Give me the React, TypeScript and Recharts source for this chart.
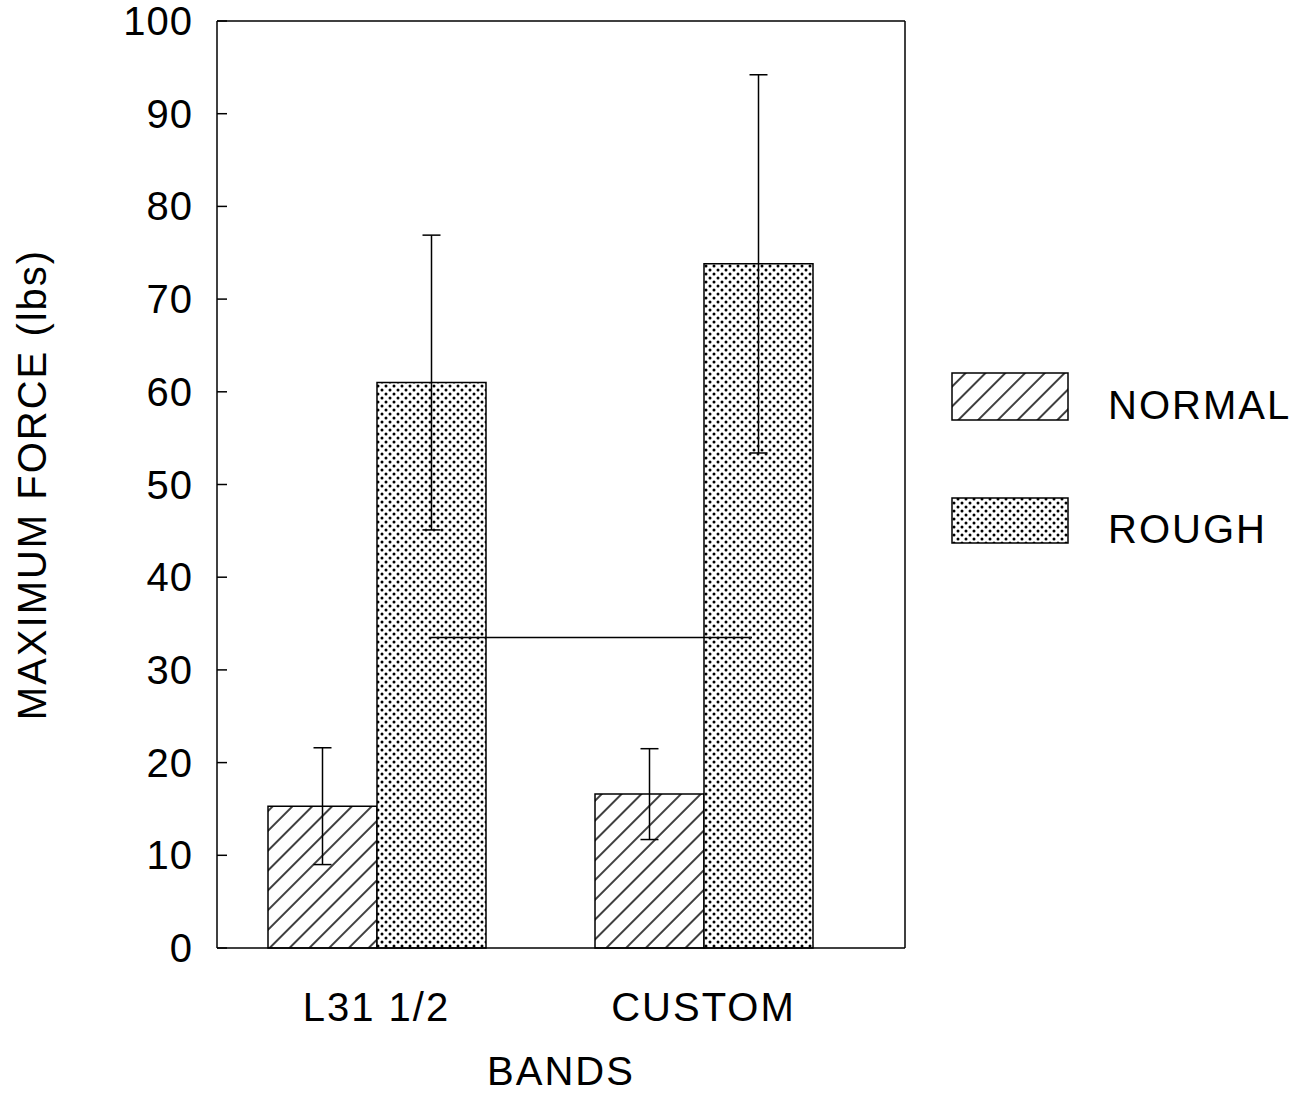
import {
  Bar,
  BarChart,
  ErrorBar,
  Legend,
  ReferenceLine,
  XAxis,
  YAxis,
} from "recharts";

const bands = ["L31 1/2", "CUSTOM"];
const normal = [15.3, 16.6];
const normalErr = [6.3, 4.9];
const rough = [61, 73.8];
const roughErr = [15.9, 20.4];
const sigLine = 33.5;
const yTicks = [0, 10, 20, 30, 40, 50, 60, 70, 80, 90, 100];

const data = bands.map((band, i) => ({
  band,
  normal: normal[i],
  normalErr: normalErr[i],
  rough: rough[i],
  roughErr: roughErr[i],
}));

const font = "'Liberation Sans', Arial, Helvetica, sans-serif";
const BAR_SIZE = 109;

function Patterns() {
  return (
    <svg width={0} height={0} style={{ position: "absolute" }}>
      <defs>
        <pattern
          id="hatch"
          patternUnits="userSpaceOnUse"
          width={14}
          height={14}
          patternTransform="rotate(45)"
        >
          <line x1={7} y1={0} x2={7} y2={14} stroke="#000" strokeWidth={1.5} />
        </pattern>
        <pattern id="dots" patternUnits="userSpaceOnUse" width={8} height={8}>
          <rect width={8} height={8} fill="#fff" />
          <circle cx={2} cy={2} r={1.5} fill="#000" />
          <circle cx={6} cy={6} r={1.5} fill="#000" />
        </pattern>
      </defs>
    </svg>
  );
}

// tick marks point into the plot, labels sit left of the axis
function YTick({ x, y, payload }: any) {
  return (
    <g>
      <line x1={x} y1={y} x2={x + 10} y2={y} stroke="#000" strokeWidth={1.5} />
      <text
        x={x - 24}
        y={y}
        textAnchor="end"
        dominantBaseline="central"
        fontSize={40}
        fontFamily={font}
        letterSpacing={1}
        fill="#000"
      >
        {payload.value}
      </text>
    </g>
  );
}

function LegendBox() {
  return (
    <svg width={350} height={190}>
      <rect x={8} y={8} width={116} height={47} fill="url(#hatch)" stroke="#000" strokeWidth={1.5} />
      <text x={164} y={40} fontSize={40} fontFamily={font} letterSpacing={2} dominantBaseline="central">
        NORMAL
      </text>
      <rect x={8} y={133} width={116} height={45} fill="url(#dots)" stroke="#000" strokeWidth={1.5} />
      <text x={164} y={164} fontSize={40} fontFamily={font} letterSpacing={2} dominantBaseline="central">
        ROUGH
      </text>
    </svg>
  );
}

export default function App() {
  return (
    <div style={{ position: "absolute", left: 0, top: 0, background: "#fff" }}>
      <Patterns />
      <BarChart
        width={1303}
        height={1094}
        data={data}
        barGap={0}
        barSize={BAR_SIZE}
        margin={{ top: 20, right: 47, left: 0, bottom: 0 }}
      >
        <XAxis
          dataKey="band"
          height={146}
          padding={{ left: -4, right: 38 }}
          tickLine={false}
          tickSize={0}
          tickMargin={45}
          axisLine={{ stroke: "#000", strokeWidth: 1.5 }}
          tick={{ fill: "#000", fontSize: 40, fontFamily: font, letterSpacing: 2 }}
          label={({ viewBox }: any) => (
            <text
              x={viewBox.x + viewBox.width / 2}
              y={1085}
              textAnchor="middle"
              fontSize={40}
              fontFamily={font}
              letterSpacing={2}
              fill="#000"
            >
              BANDS
            </text>
          )}
        />
        <XAxis
          xAxisId="top"
          dataKey="band"
          orientation="top"
          height={1}
          tick={false}
          tickLine={false}
          axisLine={{ stroke: "#000", strokeWidth: 1.5 }}
        />
        <YAxis
          width={217}
          domain={[0, 100]}
          ticks={yTicks}
          interval={0}
          tickSize={0}
          tickMargin={0}
          tickLine={false}
          axisLine={{ stroke: "#000", strokeWidth: 1.5 }}
          tick={<YTick />}
          label={({ viewBox }: any) => (
            <text
              x={46}
              y={viewBox.y + viewBox.height / 2}
              transform={`rotate(-90, 46, ${viewBox.y + viewBox.height / 2})`}
              textAnchor="middle"
              fontSize={40}
              fontFamily={font}
              letterSpacing={2}
              fill="#000"
            >
              MAXIMUM FORCE (lbs)
            </text>
          )}
        />
        <YAxis
          yAxisId="right"
          orientation="right"
          width={1}
          domain={[0, 100]}
          tick={false}
          tickLine={false}
          axisLine={{ stroke: "#000", strokeWidth: 1.5 }}
        />
        <Legend
          layout="vertical"
          align="right"
          verticalAlign="middle"
          width={350}
          wrapperStyle={{ left: 944, top: 365, right: "auto" }}
          content={() => <LegendBox />}
        />
        <Bar dataKey="normal" fill="url(#hatch)" stroke="#000" strokeWidth={1.5} isAnimationActive={false}>
          <ErrorBar dataKey="normalErr" direction="y" width={9} stroke="#000" strokeWidth={1.5} />
        </Bar>
        <Bar dataKey="rough" fill="url(#dots)" stroke="#000" strokeWidth={1.5} isAnimationActive={false}>
          <ErrorBar dataKey="roughErr" direction="y" width={9} stroke="#000" strokeWidth={1.5} />
        </Bar>
        <ReferenceLine
          segment={[
            { x: bands[0], y: sigLine },
            { x: bands[1], y: sigLine },
          ]}
          stroke="#000"
          strokeWidth={1.5}
          shape={(p: any) => (
            <line
              x1={p.x1 + BAR_SIZE / 2}
              y1={p.y1}
              x2={p.x2 + BAR_SIZE / 2 - 6}
              y2={p.y2}
              stroke="#000"
              strokeWidth={1.5}
            />
          )}
        />
      </BarChart>
    </div>
  );
}
